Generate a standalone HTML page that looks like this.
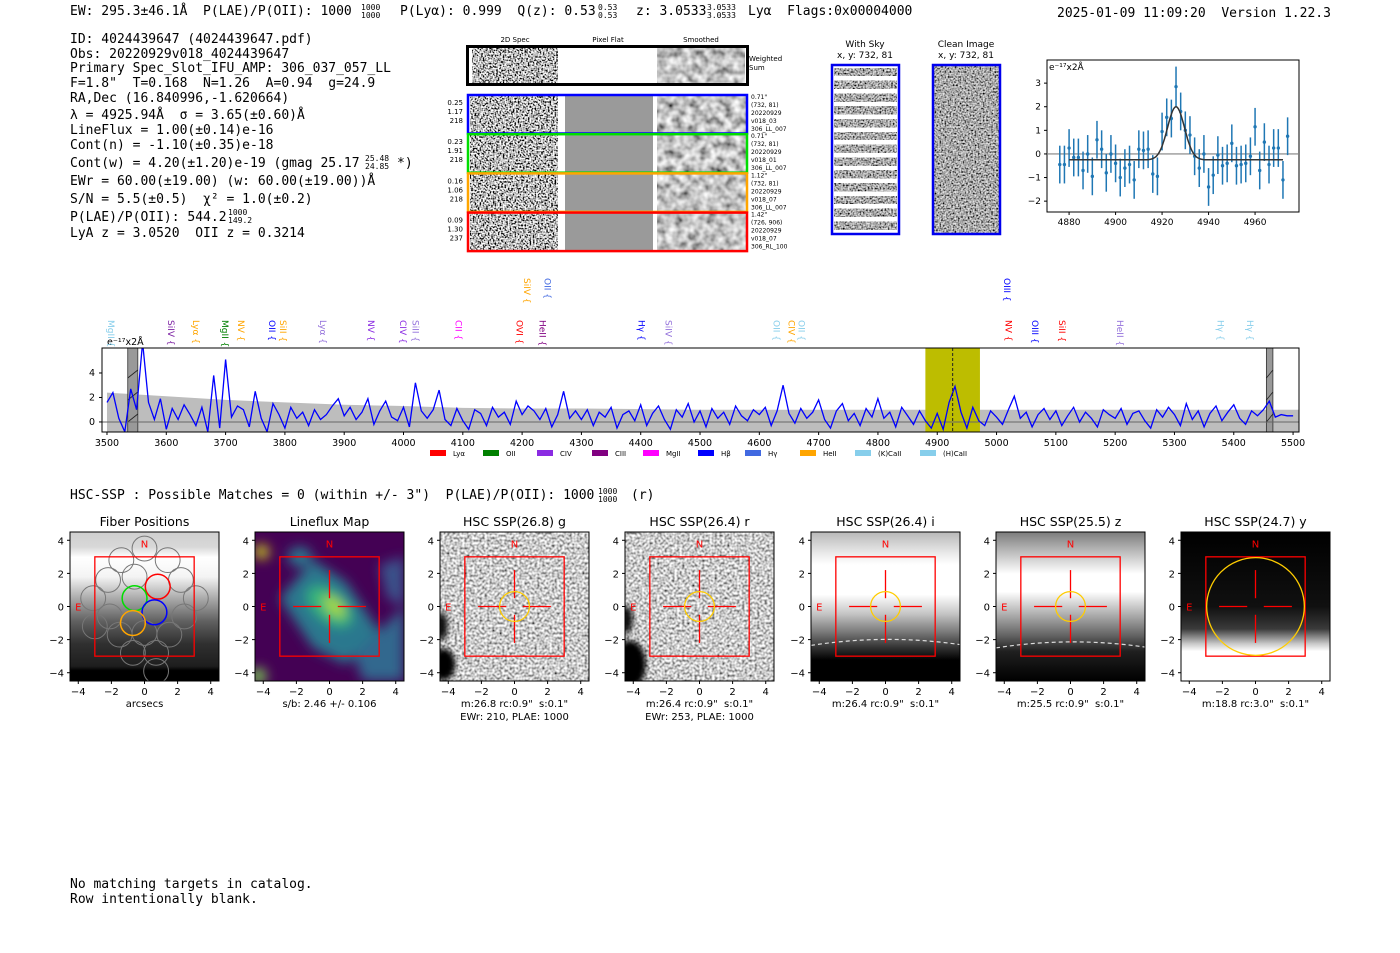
<!DOCTYPE html>
<html><head><meta charset="utf-8"><title>Detection report</title>
<style>
html,body{margin:0;padding:0;background:#fff;}
svg{display:block;}
text{white-space:pre;}
.mono{font-family:"DejaVu Sans Mono","Liberation Mono",monospace;font-size:13px;fill:#000;}
.sans{font-family:"DejaVu Sans","Liberation Sans",sans-serif;fill:#000;}
.tick{font-family:"DejaVu Sans","Liberation Sans",sans-serif;font-size:10px;fill:#000;}
.sm{font-family:"DejaVu Sans","Liberation Sans",sans-serif;font-size:6px;fill:#000;}
</style></head>
<body>
<svg id="root" width="1400" height="953" viewBox="0 0 1400 953" xmlns="http://www.w3.org/2000/svg" xml:space="preserve">
<defs>
<filter id="noiseHi" x="0" y="0" width="1" height="1"><feTurbulence type="fractalNoise" baseFrequency="0.6" numOctaves="1" seed="3"/><feColorMatrix type="matrix" values="3.4 0 0 0 -1.2  3.4 0 0 0 -1.2  3.4 0 0 0 -1.2  0 0 0 0 1"/></filter>
<filter id="noiseSm" x="0" y="0" width="1" height="1"><feTurbulence type="fractalNoise" baseFrequency="0.12" numOctaves="2" seed="7"/><feColorMatrix type="matrix" values="1.4 0 0 0 -0.15  1.4 0 0 0 -0.15  1.4 0 0 0 -0.15  0 0 0 0 1"/></filter>
<filter id="noiseMid" x="0" y="0" width="1" height="1"><feTurbulence type="fractalNoise" baseFrequency="0.4" numOctaves="1" seed="11"/><feColorMatrix type="matrix" values="1.8 0 0 0 -0.3  1.8 0 0 0 -0.3  1.8 0 0 0 -0.3  0 0 0 0 1"/></filter>
<filter id="noiseDark" x="0" y="0" width="1" height="1"><feTurbulence type="fractalNoise" baseFrequency="0.6" numOctaves="1" seed="5"/><feColorMatrix type="matrix" values="1.8 0 0 0 -0.5  1.8 0 0 0 -0.5  1.8 0 0 0 -0.5  0 0 0 0 1"/></filter>
<filter id="blur6"><feGaussianBlur stdDeviation="6"/></filter>
<filter id="blur3"><feGaussianBlur stdDeviation="3"/></filter>
<linearGradient id="g1" x1="0" y1="0" x2="0" y2="1"><stop offset="0" stop-color="#cfcfcf"/><stop offset="0.1" stop-color="#d8d8d8"/><stop offset="0.17" stop-color="#fff"/><stop offset="0.3" stop-color="#f4f4f4"/><stop offset="0.45" stop-color="#a8a8a8"/><stop offset="0.6" stop-color="#606060"/><stop offset="0.75" stop-color="#303030"/><stop offset="0.9" stop-color="#1e1e1e"/><stop offset="0.93" stop-color="#000"/><stop offset="1" stop-color="#000"/></linearGradient>
<linearGradient id="g5" x1="0" y1="0" x2="0" y2="1"><stop offset="0" stop-color="#b8b8b8"/><stop offset="0.15" stop-color="#ececec"/><stop offset="0.22" stop-color="#fff"/><stop offset="0.42" stop-color="#fff"/><stop offset="0.55" stop-color="#c4c4c4"/><stop offset="0.68" stop-color="#747474"/><stop offset="0.78" stop-color="#303030"/><stop offset="0.86" stop-color="#000"/><stop offset="1" stop-color="#000"/></linearGradient>
<linearGradient id="g6" x1="0" y1="0" x2="0" y2="1"><stop offset="0" stop-color="#7c7c7c"/><stop offset="0.15" stop-color="#c4c4c4"/><stop offset="0.28" stop-color="#fff"/><stop offset="0.4" stop-color="#fff"/><stop offset="0.55" stop-color="#b0b0b0"/><stop offset="0.7" stop-color="#606060"/><stop offset="0.8" stop-color="#202020"/><stop offset="1" stop-color="#000"/></linearGradient>
<linearGradient id="g7" x1="0" y1="0" x2="0" y2="1"><stop offset="0" stop-color="#000"/><stop offset="0.5" stop-color="#101010"/><stop offset="0.65" stop-color="#3a3a3a"/><stop offset="0.75" stop-color="#c8c8c8"/><stop offset="0.8" stop-color="#fff"/><stop offset="1" stop-color="#fff"/></linearGradient>
<clipPath id="specClip"><rect x="102" y="348" width="1197" height="84"/></clipPath>
<clipPath id="zoomClip"><rect x="1047" y="60" width="252" height="152"/></clipPath>
</defs>

<g>
<text class="mono" x="70" y="15">EW: 295.3±46.1Å  P(LAE)/P(OII): 1000</text>
<text class="mono" x="361" y="10" style="font-size:8px">1000</text><text class="mono" x="361" y="18" style="font-size:8px">1000</text>
<text class="mono" x="400" y="15">P(Lyα): 0.999  Q(z): 0.53</text>
<text class="mono" x="598" y="10" style="font-size:8px">0.53</text><text class="mono" x="598" y="18" style="font-size:8px">0.53</text>
<text class="mono" x="636" y="15">z: 3.0533</text>
<text class="mono" x="707" y="10" style="font-size:8px">3.0533</text><text class="mono" x="707" y="18" style="font-size:8px">3.0533</text>
<text class="mono" x="748" y="15">Lyα  Flags:0x00004000</text>
<text class="mono" x="1057" y="17">2025-01-09 11:09:20  Version 1.22.3</text>
</g>

<g>
<text class="mono" x="70" y="43">ID: 4024439647 (4024439647.pdf)</text>
<text class="mono" x="70" y="58">Obs: 20220929v018_4024439647</text>
<text class="mono" x="70" y="72">Primary Spec_Slot_IFU_AMP: 306_037_057_LL</text>
<text class="mono" x="70" y="87">F=1.8"  T=0.168  N=1.26  A=0.94  g=24.9</text>
<text class="mono" x="70" y="102">RA,Dec (16.840996,-1.620664)</text>
<text class="mono" x="70" y="119">λ = 4925.94Å  σ = 3.65(±0.60)Å</text>
<text class="mono" x="70" y="134">LineFlux = 1.00(±0.14)e-16</text>
<text class="mono" x="70" y="149">Cont(n) = -1.10(±0.35)e-18</text>
<text class="mono" x="70" y="167">Cont(w) = 4.20(±1.20)e-19 (gmag 25.17</text>
<text class="mono" x="365" y="161" style="font-size:8px">25.48</text><text class="mono" x="365" y="169" style="font-size:8px">24.85</text>
<text class="mono" x="397" y="167">*)</text>
<text class="mono" x="70" y="185">EWr = 60.00(±19.00) (w: 60.00(±19.00))Å</text>
<text class="mono" x="70" y="203">S/N = 5.5(±0.5)  χ² = 1.0(±0.2)</text>
<text class="mono" x="70" y="221">P(LAE)/P(OII): 544.2</text>
<text class="mono" x="228" y="215" style="font-size:8px">1000</text><text class="mono" x="228" y="223" style="font-size:8px">149.2</text>
<text class="mono" x="70" y="237">LyA z = 3.0520  OII z = 0.3214</text>
</g>

<g>
<text class="sans" x="515" y="42" text-anchor="middle" style="font-size:7px">2D Spec</text>
<text class="sans" x="608" y="42" text-anchor="middle" style="font-size:7px">Pixel Flat</text>
<text class="sans" x="701" y="42" text-anchor="middle" style="font-size:7px">Smoothed</text>
<g>
<rect x="472" y="48" width="86" height="36" fill="#888" filter="url(#noiseHi)"/>
<rect x="657" y="48" width="88" height="36" fill="#888" filter="url(#noiseSm)"/>
<rect x="467.5" y="46.5" width="280" height="38" fill="none" stroke="#000" stroke-width="3"/>
<text class="sans" x="749" y="61" style="font-size:7px">Weighted</text><text class="sans" x="749" y="70" style="font-size:7px">Sum</text>
</g>
<g id="fiberRows"></g>
</g>

<g>
<text class="sans" x="865" y="47" text-anchor="middle" style="font-size:9px">With Sky</text>
<text class="sans" x="865" y="58" text-anchor="middle" style="font-size:9px">x, y: 732, 81</text>
<rect x="832" y="65" width="67" height="169" fill="#fff"/>
<g id="skyStripes"></g>
<rect x="832" y="65" width="67" height="169" fill="none" stroke="#0000ee" stroke-width="2.5"/>
</g>
<g>
<text class="sans" x="966" y="47" text-anchor="middle" style="font-size:9px">Clean Image</text>
<text class="sans" x="966" y="58" text-anchor="middle" style="font-size:9px">x, y: 732, 81</text>
<rect x="933" y="65" width="67" height="169" fill="#888" filter="url(#noiseDark)"/>
<rect x="933" y="65" width="67" height="169" fill="none" stroke="#0000ee" stroke-width="2.5"/>
</g>

<g id="zoomPlot"></g>
<g id="specPlot"></g>

<text class="mono" x="70" y="499">HSC-SSP : Possible Matches = 0 (within +/- 3")  P(LAE)/P(OII): 1000</text>
<text class="mono" x="598" y="494" style="font-size:8px">1000</text><text class="mono" x="598" y="502" style="font-size:8px">1000</text>
<text class="mono" x="631" y="499">(r)</text>

<g id="cutouts"></g>

<text class="mono" x="70" y="888">No matching targets in catalog.</text>
<text class="mono" x="70" y="903">Row intentionally blank.</text>
</svg>

<script>
const zoomWave = [4876,4878,4880,4882,4884,4886,4888,4890,4892,4894,4896,4898,4900,4902,4904,4906,4908,4910,4912,4914,4916,4918,4920,4922,4924,4926,4928,4930,4932,4934,4936,4938,4940,4942,4944,4946,4948,4950,4952,4954,4956,4958,4960,4962,4964,4966,4968,4970,4972,4974];
const zoomFlux = [-0.45,-0.45,0.25,-0.15,-0.15,-0.7,0.0,-0.95,0.6,0.2,-0.8,0.0,-0.4,-1.0,-0.6,-0.45,-1.1,0.2,0.15,0.2,-0.85,-0.95,0.95,1.55,1.5,2.85,1.8,1.0,0.8,-0.1,-0.6,0.0,-1.4,-0.9,-0.05,-0.5,-0.4,0.45,-0.5,-0.45,-0.4,-0.1,1.15,-0.7,0.5,-0.45,0.25,0.25,-1.1,0.75];
const zoomErr = [0.8,0.8,0.8,0.8,0.8,0.8,0.8,0.8,0.8,0.8,0.8,0.8,0.8,0.8,0.8,0.8,0.8,0.8,0.8,0.8,0.8,0.8,0.8,0.8,0.8,0.85,0.8,0.8,0.8,0.8,0.8,0.8,0.8,0.8,0.8,0.8,0.8,0.8,0.8,0.8,0.8,0.8,0.8,0.8,0.8,0.8,0.8,0.8,0.8,0.8];
const fitParams = [4926, 2.25, 3.65, -0.25];
const zoomXTicks = [4880,4900,4920,4940,4960];
const zoomYTicks = [-2,-1,0,1,2,3];

const specStart = 3500, specStep = 10;
const specFlux = [
1.6,2.4,0.3,-0.8,2.7,1.0,6.5,1.6,0.2,1.9,
-0.6,1.1,0.2,1.4,0.6,-0.3,1.2,-0.8,3.8,-0.5,
5.1,0.4,1.3,1.0,-0.4,2.5,0.3,-0.8,1.5,0.6,
-0.5,1.2,0.3,0.8,-0.3,1.0,0.2,0.6,1.3,1.9,
0.5,1.2,0.2,0.8,1.9,-0.2,0.9,1.7,0.4,0.1,
1.2,-0.4,3.2,0.9,0.3,1.0,2.6,0.2,-0.3,1.1,
0.1,-0.6,1.0,0.7,-0.3,1.2,0.4,0.8,-0.2,1.7,
0.6,1.3,0.9,0.2,1.1,-0.4,0.6,2.5,0.3,0.9,
0.2,1.0,-0.3,0.8,0.4,1.2,-0.5,0.6,0.9,0.1,
1.4,-0.3,0.7,1.3,0.2,-0.6,1.0,0.4,1.5,0.0,
0.9,-0.4,1.1,0.3,0.8,-0.2,1.3,0.5,0.1,1.0,
0.6,1.2,-0.3,0.9,3.0,0.7,-0.1,1.1,0.3,0.8,
1.8,0.2,-0.5,0.9,1.5,0.1,0.7,-0.3,1.1,0.4,
1.9,0.3,0.8,-0.4,1.2,0.5,-0.2,0.9,0.1,-0.5,
0.7,-0.6,1.6,2.9,0.8,-0.5,1.2,0.1,-0.3,0.9,
0.4,-0.2,1.0,2.1,0.3,0.8,-0.4,0.6,1.1,0.2,
0.9,-0.3,0.5,1.2,0.0,0.8,0.3,-0.4,1.0,0.6,
0.3,1.1,-0.2,0.7,0.9,0.1,-0.5,1.0,0.4,1.2,
0.6,-0.3,1.5,0.2,0.9,-0.4,0.7,1.3,0.1,0.8,
1.4,0.3,-0.2,0.9,0.5,1.0,1.7,0.4,0.6,0.5,
0.5];
const errWave = [3500,3600,3700,3800,3900,4000,4100,4200,4300,4400,4500,4600,4700,4800,4900,5000,5100,5200,5300,5400,5510];
const errVal  = [2.4,2.1,1.8,1.6,1.4,1.3,1.15,1.1,1.1,1.05,1.0,1.0,1.0,1.0,1.0,1.0,1.0,1.0,1.0,1.0,1.0];
const specXTicks = [3500,3600,3700,3800,3900,4000,4100,4200,4300,4400,4500,4600,4700,4800,4900,5000,5100,5200,5300,5400,5500];
const specYTicks = [0,2,4];
const fitWindow = [4880, 4972];
const maskedRanges = [[3535,3552],[5455,5466]];
const lineNames  = ["MgII","SiIV","Lyα","MgII","NV","OII","SiII","Lyα","NV","CIV","SiII","CII","OVI","HeII","Hγ","SiIV","SiIV","OII","OII","CIV","OII","NV","OIII","SiII","HeII","Hγ","Hγ","OIII"];
const lineWaves  = [3507,3608,3650,3699,3726,3778,3797,3864,3945,3999,4020,4093,4196,4234,4401,4447,4208,4243,4629,4654,4671,5020,5065,5110,5208,5378,5427,5018];
const lineColors = ["#87ceeb","#7b1fa2","#ffa500","#008000","#ffa500","#0000ff","#ffa500","#9370db","#8a2be2","#8a2be2","#9370db","#ff00ff","#ff0000","#800080","#0000ff","#9370db","#ffa500","#4169e1","#87ceeb","#ffa500","#87ceeb","#ff0000","#0000ff","#ff0000","#9370db","#87ceeb","#87ceeb","#0000ff"];
const lineRows   = [1,1,1,1,1,1,1,1,1,1,1,1,1,1,1,1,2,2,1,1,1,1,1,1,1,1,1,2];
const legendNames  = ["Lyα","OII","CIV","CIII","MgII","Hβ","Hγ","HeII","(K)CaII","(H)CaII"];
const legendColors = ["#ff0000","#008000","#8a2be2","#800080","#ff00ff","#0000ff","#4169e1","#ffa500","#87ceeb","#87ceeb"];

const panelTitles = ["Fiber Positions","Lineflux Map","HSC SSP(26.8) g","HSC SSP(26.4) r","HSC SSP(26.4) i","HSC SSP(25.5) z","HSC SSP(24.7) y"];
const panelLine1 = ["arcsecs","s/b: 2.46 +/- 0.106","m:26.8 rc:0.9\"  s:0.1\"","m:26.4 rc:0.9\"  s:0.1\"","m:26.4 rc:0.9\"  s:0.1\"","m:25.5 rc:0.9\"  s:0.1\"","m:18.8 rc:3.0\"  s:0.1\""];
const panelLine2 = ["","","EWr: 210, PLAE: 1000","EWr: 253, PLAE: 1000","","",""];
const apertureRadius = [0,0,0.9,0.9,0.9,0.9,2.95];
const panelTicks = [-4,-2,0,2,4];

const fiberRowVals = [["0.25","1.17","218"],["0.23","1.91","218"],["0.16","1.06","218"],["0.09","1.30","237"]];
const fiberRowInfo = [["0.71\"","(732, 81)","20220929","v018_03","306_LL_007"],["0.71\"","(732, 81)","20220929","v018_01","306_LL_007"],["1.12\"","(732, 81)","20220929","v018_07","306_LL_007"],["1.42\"","(726, 906)","20220929","v018_07","306_RL_100"]];
const fiberRowColors = ["#0000ff","#00dd00","#ffa500","#ff0000"];

const NS = "http://www.w3.org/2000/svg";
function mk(parent, tag, attrs, txt){
  const e = document.createElementNS(NS, tag);
  for (const k in attrs) e.setAttribute(k, attrs[k]);
  if (txt !== undefined) e.textContent = txt;
  parent.appendChild(e);
  return e;
}
function pts(a){ let s=[]; for(let i=0;i<a.length;i+=2) s.push(a[i]+','+a[i+1]); return s.join(' '); }

(function(){
  const g = document.getElementById('fiberRows');
  for (let i=0;i<4;i++){
    const y0 = 95 + i*39.2;
    const row = mk(g,'g',{});
    
    
    mk(row,'rect',{x:470,y:y0+1,width:88,height:37,fill:'#888',filter:'url(#noiseHi)'});
    mk(row,'rect',{x:565,y:y0+1,width:88,height:37,fill:'#9a9a9a'});
    mk(row,'rect',{x:657,y:y0+1,width:89,height:37,fill:'#888',filter:'url(#noiseSm)'});
    mk(row,'rect',{x:468,y:y0,width:279,height:38.5,fill:'none',stroke:fiberRowColors[i],'stroke-width':2.5});
    fiberRowVals[i].forEach((t,j)=>mk(row,'text',{class:'sans',x:463,y:y0+10+j*9,'text-anchor':'end',style:'font-size:7px'},t));
    fiberRowInfo[i].forEach((t,j)=>mk(row,'text',{class:'sm',x:751,y:y0+4+j*8},t));
  }
  const s = document.getElementById('skyStripes');
  for (let k=0;k<13;k++){
    const r = mk(s,'rect',{x:834,y:68+k*12.8,width:63,height:8,fill:'#666',filter:'url(#noiseDark)'});
    
    
  }
})();

(function(){
  const g = document.getElementById('zoomPlot');
  const L=1047,T=60,W=252,H=152, x0=4870.5,x1=4978.9, y0=-2.46,y1=3.98;
  const xZ = w => L + (w-x0)/(x1-x0)*W;
  const yZ = v => T + (y1-v)/(y1-y0)*H;
  mk(g,'rect',{x:L,y:T,width:W,height:H,fill:'#fff',stroke:'#000','stroke-width':1});
  const c = mk(g,'g',{'clip-path':'url(#zoomClip)'});
  const zl = mk(c,'line',{x1:L,x2:L+W,y1:yZ(0),y2:yZ(0),stroke:'#808080','stroke-width':1.2});
  
  
  zoomWave.forEach((w,i)=>{
    const eb = mk(c,'line',{x1:xZ(w),x2:xZ(w),y1:yZ(zoomFlux[i]-zoomErr[i]),y2:yZ(zoomFlux[i]+zoomErr[i]),stroke:'#1f77b4','stroke-width':1.5});
    
    
    const p = mk(c,'circle',{cx:xZ(w),cy:yZ(zoomFlux[i]),r:1.7,fill:'#1f77b4'});
    
    
  });
  let d='';
  for (let w=4880; w<=4972; w+=0.5){
    const v = fitParams[3] + fitParams[1]*Math.exp(-0.5*Math.pow((w-fitParams[0])/fitParams[2],2));
    d += (d?'L':'M')+xZ(w).toFixed(1)+','+yZ(v).toFixed(1);
  }
  const fit = mk(c,'path',{d:d,fill:'none',stroke:'#333','stroke-width':1.5});
  
  
  zoomXTicks.forEach(t=>{
    mk(g,'line',{x1:xZ(t),x2:xZ(t),y1:T+H,y2:T+H+3,stroke:'#000'});
    mk(g,'text',{class:'tick',x:xZ(t),y:T+H+13,'text-anchor':'middle',style:'font-size:9px'},t);
  });
  zoomYTicks.forEach(t=>{
    mk(g,'line',{x1:L-3,x2:L,y1:yZ(t),y2:yZ(t),stroke:'#000'});
    mk(g,'text',{class:'tick',x:L-6,y:yZ(t)+3,'text-anchor':'end',style:'font-size:9px'},t<0?'\u2212'+(-t):t);
  });
  mk(g,'text',{class:'sans',x:L+2,y:T+10,style:'font-size:9px'},'e\u207B\u00B9\u2077x2Å');
})();

(function(){
  const g = document.getElementById('specPlot');
  const L=102,T=348,W=1197,H=84, x0=3491.6,x1=5510, y0=-0.82,y1=6.04;
  const xS = w => L + (w-x0)/(x1-x0)*W;
  const yS = v => T + (y1-v)/(y1-y0)*H;
  mk(g,'rect',{x:L,y:T,width:W,height:H,fill:'#fff'});
  const c = mk(g,'g',{'clip-path':'url(#specClip)'});
  let d='M'+xS(errWave[0])+','+(T+H);
  errWave.forEach((w,i)=>{ d+='L'+xS(w).toFixed(1)+','+yS(errVal[i]).toFixed(1); });
  d+='L'+xS(errWave[errWave.length-1])+','+(T+H)+'Z';
  const band = mk(c,'path',{d:d,fill:'#bdbdbd'});
  
  
  const fw = mk(c,'rect',{x:xS(fitWindow[0]),y:T,width:xS(fitWindow[1])-xS(fitWindow[0]),height:H,fill:'#bdbd00'});
  
  
  maskedRanges.forEach(r=>{
    const m = mk(c,'rect',{x:xS(r[0]),y:T,width:xS(r[1])-xS(r[0]),height:H,fill:'#999',stroke:'#333','stroke-width':0.8});
    
    
    for (let k=0;k<3;k++) mk(c,'line',{x1:xS(r[0]),x2:xS(r[1]),y1:T+30+k*22,y2:T+22+k*22,stroke:'#222','stroke-width':0.8});
  });
  mk(c,'line',{x1:L,x2:L+W,y1:yS(0),y2:yS(0),stroke:'#666','stroke-width':1});
  let p='';
  specFlux.forEach((v,i)=>{ p+=(p?'L':'M')+xS(specStart+i*specStep).toFixed(1)+','+yS(v).toFixed(1); });
  const sl = mk(c,'path',{d:p,fill:'none',stroke:'#0000ff','stroke-width':1.3});
  
  
  const dl = mk(c,'line',{x1:xS(fitParams[0]),x2:xS(fitParams[0]),y1:T,y2:T+H,stroke:'#222','stroke-width':1,'stroke-dasharray':'3,2'});
  
  
  mk(g,'rect',{x:L,y:T,width:W,height:H,fill:'none',stroke:'#000','stroke-width':1});
  specXTicks.forEach(t=>{
    mk(g,'line',{x1:xS(t),x2:xS(t),y1:T+H,y2:T+H+3,stroke:'#000'});
    mk(g,'text',{class:'tick',x:xS(t),y:T+H+14,'text-anchor':'middle',style:'font-size:9.5px'},t);
  });
  specYTicks.forEach(t=>{
    mk(g,'line',{x1:L-3,x2:L,y1:yS(t),y2:yS(t),stroke:'#000'});
    mk(g,'text',{class:'tick',x:L-7,y:yS(t)+3,'text-anchor':'end',style:'font-size:9.5px'},t);
  });
  mk(g,'text',{class:'sans',x:L+5,y:T-3,style:'font-size:9.5px'},'e\u207B\u00B9\u2077x2Å');
  lineNames.forEach((n,i)=>{
    const x = xS(lineWaves[i]);
    const yb = lineRows[i]===1 ? 348 : 306;
    const t = mk(g,'text',{class:'sans',x:0,y:0,transform:'translate('+(x-3)+','+(yb-28)+') rotate(90)',style:'font-size:9px;fill:'+lineColors[i]},n+' {');
    
    
  });
  const legX = [430,483,537,592,643,698,745,800,855,920];
  legendNames.forEach((n,i)=>{
    const lg = mk(g,'g',{});
    
    
    mk(lg,'rect',{x:legX[i],y:450,width:16,height:6,fill:legendColors[i]});
    mk(lg,'text',{class:'sans',x:legX[i]+23,y:456,style:'font-size:7px'},n);
  });
})();

(function(){
  const g = document.getElementById('cutouts');
  const lefts = [70,255,440,625,811,996,1181];
  const T=532, S=149, u=S/9;
  lefts.forEach((L,pi)=>{
    const pg = mk(g,'g',{});
    
    
    const X = v => L + (v+4.5)*u;
    const Y = v => T + (4.5-v)*u;
    const cid='pc'+pi;
    const cp = mk(pg,'clipPath',{id:cid}); mk(cp,'rect',{x:L,y:T,width:S,height:S});
    const im = mk(pg,'g',{'clip-path':'url(#'+cid+')'});
    if (pi===0){
      mk(im,'rect',{x:L,y:T,width:S,height:S,fill:'url(#g1)'});
      const fib=[[0,3.5],[-1.4,2.8],[1.4,2.8],[-2.2,1.6],[-0.6,1.8],[2.2,1.6],[-3.1,0.5],[3.1,0.5],[-2.1,-0.6],[-1.5,-1.7],[0,-1.6],[1.5,-1.7],[2.4,-0.6],[-0.7,-2.8],[0.7,-2.8],[0.7,-3.9],[-3,-1.2]];
      fib.forEach(f=>mk(im,'circle',{cx:X(f[0]),cy:Y(f[1]),r:0.75*u,fill:'none',stroke:'#777','stroke-width':1}));
      [[0.8,1.2,'#ff0000'],[-0.6,0.5,'#00dd00'],[0.6,-0.35,'#0000ff'],[-0.7,-1.0,'#ffa500']].forEach(f=>mk(im,'circle',{cx:X(f[0]),cy:Y(f[1]),r:0.75*u,fill:'none',stroke:f[2],'stroke-width':1.5}));
    } else if (pi===1){
      mk(im,'rect',{x:L,y:T,width:S,height:S,fill:'#440154'});
      const bl = mk(im,'g',{filter:'url(#blur6)'});
      mk(bl,'polygon',{points:pts([X(-3),Y(0.5),X(-1),Y(2.8),X(1),Y(1.5),X(3),Y(-1.5),X(1),Y(-3.5),X(-1),Y(-2.5)]),fill:'#2a788e'});
      mk(bl,'polygon',{points:pts([X(1.5),Y(-3),X(4.5),Y(0),X(4.5),Y(-4.5),X(2),Y(-4.5)]),fill:'#31688e'});
      mk(bl,'polygon',{points:pts([X(3),Y(2.5),X(4.5),Y(3),X(4.5),Y(0),X(3.5),Y(0.5)]),fill:'#3b528b'});
      mk(bl,'ellipse',{cx:X(-1.8),cy:Y(3),rx:12,ry:10,fill:'#2a788e'});
      mk(bl,'ellipse',{cx:X(0),cy:Y(0),rx:26,ry:14,fill:'#35b779',transform:'rotate(40 '+X(0)+' '+Y(0)+')'});
      mk(bl,'ellipse',{cx:X(0.3),cy:Y(0),rx:13,ry:6,fill:'#b5de2b',transform:'rotate(45 '+X(0.3)+' '+Y(0)+')'});
      mk(bl,'ellipse',{cx:X(-4.1),cy:Y(3.3),rx:7,ry:7,fill:'#d8e219'});
      mk(bl,'ellipse',{cx:X(-4.3),cy:Y(-4.2),rx:8,ry:8,fill:'#7ad151'});
    } else if (pi===2 || pi===3){
      mk(im,'rect',{x:L,y:T,width:S,height:S,fill:'#999',filter:'url(#noiseMid)'});
      const db = mk(im,'g',{filter:'url(#blur3)'});
      mk(db,'ellipse',{cx:X(pi===2?-4.3:-4.2),cy:Y(-3.5),rx:pi===2?12:16,ry:pi===2?16:24,fill:'#000'});
      mk(db,'ellipse',{cx:X(-4.4),cy:Y(pi===2?-1.2:-0.8),rx:6,ry:14,fill:'#111'});
    } else {
      mk(im,'rect',{x:L,y:T,width:S,height:S,fill:['','','','','url(#g5)','url(#g6)','url(#g7)'][pi]});
      if (pi===4||pi===5){
        const yy = pi===4?-2:-2.15;
        mk(im,'path',{d:'M'+L+','+Y(yy-0.35)+' Q'+X(0)+','+Y(yy+0.35)+' '+(L+S)+','+Y(yy-0.3),fill:'none',stroke:'#ddd','stroke-width':1.2,'stroke-dasharray':'4,3'});
      }
    }
    mk(pg,'rect',{x:L,y:T,width:S,height:S,fill:'none',stroke:'#000','stroke-width':1});
    mk(pg,'rect',{x:X(-3),y:Y(3),width:6*u,height:6*u,fill:'none',stroke:'#ff0000','stroke-width':1.3});
    if (pi>0){
      [[-2.2,-0.5],[0.5,2.2]].forEach(s=>{
        mk(pg,'line',{x1:X(s[0]),x2:X(s[1]),y1:Y(0),y2:Y(0),stroke:'#ff0000','stroke-width':1.3});
        mk(pg,'line',{x1:X(0),x2:X(0),y1:Y(s[0]),y2:Y(s[1]),stroke:'#ff0000','stroke-width':1.3});
      });
    }
    if (apertureRadius[pi]>0){
      const ap = mk(pg,'circle',{cx:X(0),cy:Y(0),r:apertureRadius[pi]*u,fill:'none',stroke:'#ffcc00','stroke-width':1.3});
      
      
    }
    mk(pg,'text',{class:'sans',x:X(0),y:Y(3.8)+4,'text-anchor':'middle',style:'font-size:10px;fill:#ff0000'},'N');
    mk(pg,'text',{class:'sans',x:X(-4),y:Y(0)+4,'text-anchor':'middle',style:'font-size:10px;fill:#ff0000'},'E');
    const tt = mk(pg,'text',{class:'sans',x:L+S/2,y:T-6,'text-anchor':'middle',style:'font-size:12.5px'},panelTitles[pi]);
    
    
    panelTicks.forEach(t=>{
      const lab = t<0?'\u2212'+(-t):''+t;
      mk(pg,'line',{x1:X(t),x2:X(t),y1:T+S,y2:T+S+3,stroke:'#000'});
      mk(pg,'text',{class:'tick',x:X(t),y:T+S+14,'text-anchor':'middle'},lab);
      mk(pg,'line',{x1:L-3,x2:L,y1:Y(t),y2:Y(t),stroke:'#000'});
      mk(pg,'text',{class:'tick',x:L-6,y:Y(t)+4,'text-anchor':'end'},lab);
    });
    mk(pg,'text',{class:'sans',x:L+S/2,y:T+S+26,'text-anchor':'middle',style:'font-size:10px'},panelLine1[pi]);
    if (panelLine2[pi]) mk(pg,'text',{class:'sans',x:L+S/2,y:T+S+39,'text-anchor':'middle',style:'font-size:10px'},panelLine2[pi]);
  });
})();
</script>
</body></html>
